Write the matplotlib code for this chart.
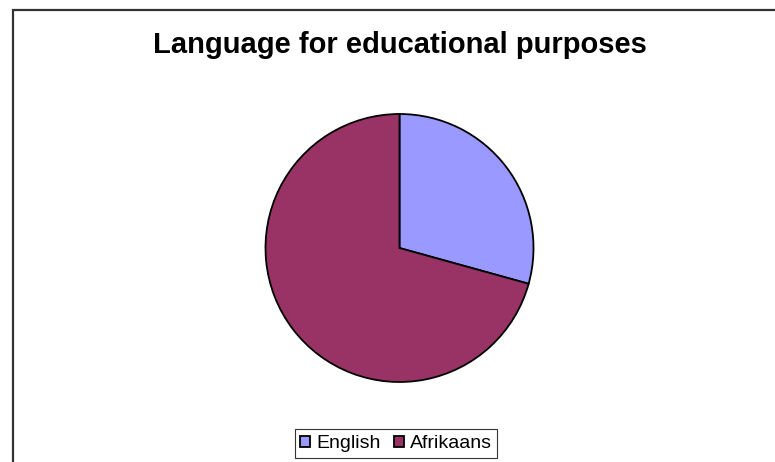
import matplotlib as mpl
mpl.use('Agg')
import matplotlib.pyplot as plt
from matplotlib.patches import Rectangle

labels = ['English', 'Afrikaans']
shares = [29.3, 70.7]
colors = ['#9999FF', '#993366']

plt.rcParams['font.family'] = ['Liberation Sans', 'DejaVu Sans']

W, H = 775, 462
fig = plt.figure(figsize=(W / 100, H / 100), dpi=100)

# chart frame, cut off on the right and bottom
fig.patches.append(Rectangle((12.5 / W, -0.1), 1.0, 1 - 9.5 / H + 0.1,
                             transform=fig.transFigure, fill=False,
                             edgecolor='#333333', linewidth=1.6))

fig.text(400 / W, 1 - 45 / H, 'Language for educational purposes',
         ha='center', va='center', fontsize=21, fontweight='bold')

r = 134
cx, cy = 399.5, 248
ax = fig.add_axes([(cx - r) / W, 1 - (cy + r) / H, 2 * r / W, 2 * r / H])
wedges, _ = ax.pie(shares, colors=colors, startangle=90, counterclock=False,
                   wedgeprops=dict(edgecolor='black', linewidth=1.3))
ax.set_xlim(-1, 1)
ax.set_ylim(-1, 1)
ax.set_aspect('equal')
ax.axis('off')

leg = fig.legend(wedges, labels, loc='center', bbox_to_anchor=(396 / W, 1 - 443.5 / H),
                 ncol=2, fontsize=14, frameon=True, fancybox=False,
                 handlelength=0.5, handleheight=0.5, handletextpad=0.3,
                 columnspacing=0.7, borderpad=0.3, borderaxespad=0)
leg.get_frame().set_edgecolor('black')
leg.get_frame().set_linewidth(0.8)

fig.savefig('out.png', dpi=100)
